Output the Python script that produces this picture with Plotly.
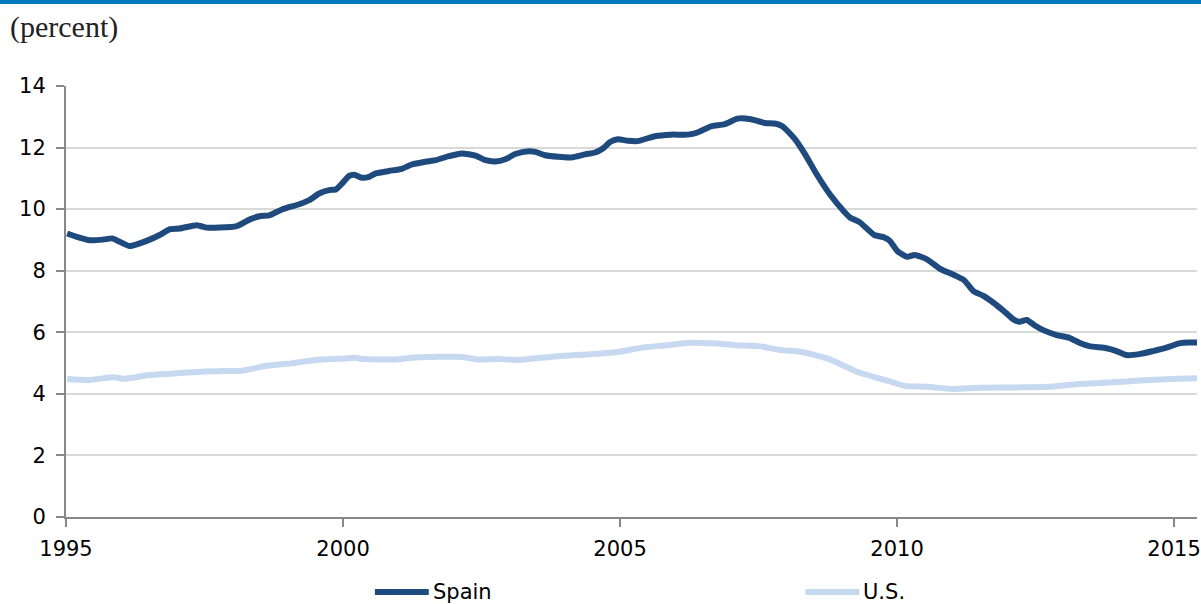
import plotly.graph_objects as go

# ---- data ----
spain_years = [1995.02, 1995.20, 1995.43, 1995.67, 1995.83, 1995.97, 1996.15, 1996.33, 1996.51, 1996.69,
               1996.87, 1997.05, 1997.36, 1997.54, 1997.77, 1998.08, 1998.31, 1998.49, 1998.67, 1998.90,
               1999.21, 1999.39, 1999.57, 1999.75, 1999.87, 1999.98, 2000.11, 2000.20, 2000.34, 2000.47,
               2000.59, 2000.83, 2001.06, 2001.24, 2001.49, 2001.67, 2001.91, 2002.14, 2002.39, 2002.57,
               2002.75, 2002.93, 2003.11, 2003.35, 2003.47, 2003.65, 2003.88, 2004.12, 2004.37, 2004.55,
               2004.69, 2004.82, 2004.96, 2005.14, 2005.32, 2005.63, 2005.92, 2006.22, 2006.40, 2006.64,
               2006.89, 2007.12, 2007.36, 2007.61, 2007.79, 2007.93, 2008.15, 2008.33, 2008.56, 2008.80,
               2009.05, 2009.15, 2009.33, 2009.59, 2009.77, 2009.87, 2010.00, 2010.18, 2010.32, 2010.54,
               2010.77, 2011.03, 2011.21, 2011.38, 2011.56, 2011.74, 2011.92, 2012.10, 2012.21, 2012.34,
               2012.48, 2012.64, 2012.88, 2013.11, 2013.29, 2013.47, 2013.78, 2013.96, 2014.14, 2014.37,
               2014.62, 2014.86, 2015.09, 2015.27, 2015.50]
spain_values = [9.21, 9.10, 8.99, 9.01, 9.05, 8.94, 8.80, 8.89, 9.01, 9.16,
                9.34, 9.37, 9.48, 9.40, 9.40, 9.45, 9.66, 9.77, 9.80, 9.99,
                10.16, 10.29, 10.51, 10.62, 10.64, 10.83, 11.08, 11.12, 11.02, 11.05,
                11.16, 11.24, 11.31, 11.45, 11.54, 11.59, 11.72, 11.81, 11.74, 11.59,
                11.55, 11.62, 11.79, 11.88, 11.86, 11.75, 11.70, 11.68, 11.78, 11.84,
                11.97, 12.18, 12.27, 12.22, 12.21, 12.37, 12.42, 12.42, 12.49, 12.69,
                12.76, 12.94, 12.92, 12.80, 12.78, 12.69, 12.29, 11.81, 11.10, 10.45,
                9.91, 9.73, 9.57, 9.16, 9.08, 8.97, 8.65, 8.45, 8.51, 8.37,
                8.07, 7.86, 7.69, 7.34, 7.18, 6.96, 6.70, 6.42, 6.34, 6.40,
                6.23, 6.07, 5.91, 5.82, 5.66, 5.55, 5.48, 5.39, 5.26, 5.29,
                5.39, 5.50, 5.64, 5.67, 5.66]

us_years = [1995.02, 1995.41, 1995.86, 1996.04, 1996.49, 1996.94, 1997.46, 1997.84, 1998.17, 1998.62,
            1999.06, 1999.51, 2000.04, 2000.22, 2000.36, 2000.94, 2001.31, 2002.16, 2002.41, 2002.79,
            2003.18, 2003.56, 2004.01, 2004.41, 2004.96, 2005.43, 2005.85, 2006.26, 2006.67, 2007.09,
            2007.50, 2007.91, 2008.26, 2008.74, 2009.01, 2009.30, 2009.84, 2010.13, 2010.54, 2011.01,
            2011.49, 2012.18, 2012.73, 2013.22, 2013.90, 2014.39, 2014.95, 2015.50]
us_values = [4.48, 4.45, 4.54, 4.49, 4.61, 4.66, 4.72, 4.74, 4.75, 4.91,
             4.99, 5.10, 5.15, 5.17, 5.13, 5.12, 5.18, 5.20, 5.12, 5.13,
             5.10, 5.17, 5.24, 5.28, 5.36, 5.51, 5.58, 5.66, 5.64, 5.58,
             5.55, 5.42, 5.37, 5.15, 4.94, 4.70, 4.42, 4.26, 4.23, 4.16,
             4.20, 4.21, 4.23, 4.31, 4.38, 4.43, 4.48, 4.51]

x_tick_vals = [1995, 2000, 2005, 2010, 2015]
x_tick_text = ["1995", "2000", "2005", "2010", "2015"]
y_tick_vals = [0, 2, 4, 6, 8, 10, 12, 14]
series_names = ["Spain", "U.S."]
series_colors = ["#1F4A7E", "#C6D9F1"]

# ---- layout geometry (pixels) ----
W, H = 1201, 604
L, R, T, B = 66, 0, 86, 87
plot_w = W - L - R
plot_h = H - T - B
x_end = 1995 + (W - L) / 55.6


def px_to_paper_x(px):
    return (px - L) / plot_w


def py_to_paper_y(py):
    return (H - B - py) / plot_h


fig = go.Figure()
fig.add_trace(go.Scatter(x=spain_years, y=spain_values, mode="lines", name=series_names[0],
                         line=dict(color=series_colors[0], width=6, shape="spline", smoothing=0.6),
                         showlegend=False))
fig.add_trace(go.Scatter(x=us_years, y=us_values, mode="lines", name=series_names[1],
                         line=dict(color=series_colors[1], width=6, shape="spline", smoothing=0.6),
                         showlegend=False))

font_sans = "DejaVu Sans, Verdana, sans-serif"

shapes = [
    # top blue band
    dict(type="rect", xref="paper", yref="paper", x0=px_to_paper_x(-5), x1=px_to_paper_x(W + 5),
         y0=py_to_paper_y(4), y1=py_to_paper_y(-5), fillcolor="#0079C1", line=dict(width=0), layer="above"),
    # legend samples
    dict(type="line", xref="paper", yref="paper", x0=px_to_paper_x(376), x1=px_to_paper_x(430),
         y0=py_to_paper_y(592), y1=py_to_paper_y(592), line=dict(color=series_colors[0], width=6)),
    dict(type="line", xref="paper", yref="paper", x0=px_to_paper_x(808), x1=px_to_paper_x(862),
         y0=py_to_paper_y(592), y1=py_to_paper_y(592), line=dict(color=series_colors[1], width=6)),
]

annotations = [
    dict(text="(percent)", xref="paper", yref="paper", x=px_to_paper_x(8), y=py_to_paper_y(27),
         xanchor="left", yanchor="middle", showarrow=False,
         font=dict(family="Liberation Serif, Times New Roman, serif", size=30, color="#222222")),
    dict(text=series_names[0], xref="paper", yref="paper", x=px_to_paper_x(432), y=py_to_paper_y(592),
         xanchor="left", yanchor="middle", showarrow=False,
         font=dict(family=font_sans, size=21, color="#000000")),
    dict(text=series_names[1], xref="paper", yref="paper", x=px_to_paper_x(864), y=py_to_paper_y(592),
         xanchor="left", yanchor="middle", showarrow=False,
         font=dict(family=font_sans, size=21, color="#000000")),
]

fig.update_layout(
    width=W, height=H,
    margin=dict(l=L, r=R, t=T, b=B, pad=0),
    paper_bgcolor="white", plot_bgcolor="white",
    showlegend=False,
    shapes=shapes,
    annotations=annotations,
    xaxis=dict(range=[1995, x_end], tickvals=x_tick_vals, ticktext=x_tick_text,
               showgrid=False, zeroline=False, showline=True, linecolor="#888888", linewidth=2,
               ticks="outside", ticklen=8, tickwidth=2, tickcolor="#888888",
               tickfont=dict(family=font_sans, size=21, color="#000000"), ticklabelstandoff=4,
               ticklabeloverflow="allow"),
    yaxis=dict(range=[0, 14], tickvals=y_tick_vals, showgrid=True, gridcolor="#D9D9D9", gridwidth=2,
               zeroline=False, showline=True, linecolor="#888888", linewidth=2,
               ticks="outside", ticklen=8, tickwidth=2, tickcolor="#888888",
               tickfont=dict(family=font_sans, size=21, color="#000000"), ticklabelstandoff=6),
)

fig.write_html("out.html", config={"displayModeBar": False},
               post_script="document.body.style.margin='0';document.body.style.overflow='hidden';")
